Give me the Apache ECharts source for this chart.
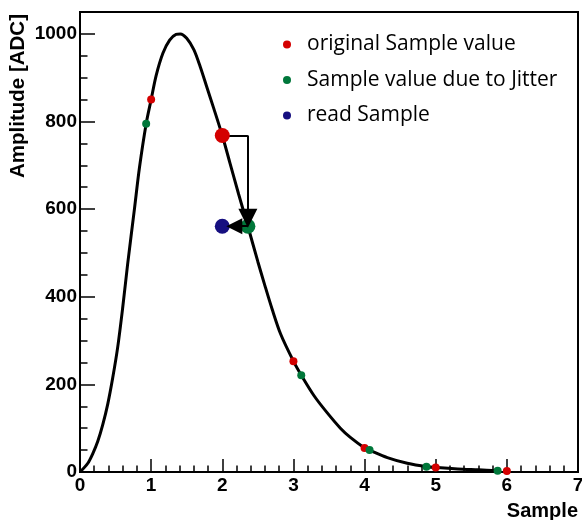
<!DOCTYPE html>
<html>
<head>
<meta charset="utf-8">
<script src="https://cdn.jsdelivr.net/npm/echarts@6/dist/echarts.min.js"></script>
<style>
  html, body { margin: 0; padding: 0; background: #fff; }
  #chart { width: 582px; height: 520px; }
</style>
</head>
<body>
<div id="chart"></div>
<script>
// ---- data ----
const pulseX = [0, 0.11, 0.18, 0.25, 0.32, 0.39, 0.46, 0.53, 0.60, 0.67, 0.765, 0.836, 0.93, 1.0, 1.07, 1.165, 1.26, 1.35, 1.41, 1.50, 1.60, 1.69, 1.78, 1.88, 2.0, 2.11, 2.23, 2.36, 2.50, 2.60, 2.70, 2.82, 3.0, 3.11, 3.29, 3.47, 3.66, 3.80, 4.0, 4.07, 4.32, 4.60, 4.88, 5.02, 5.31, 5.60, 5.87];
const pulseY = [0, 20, 42, 70, 108, 155, 215, 285, 375, 475, 600, 695, 795, 850, 905, 956, 986, 999, 1000, 990, 964, 925, 880, 830, 768, 704, 634, 561, 480, 425, 372, 315, 253, 221, 174, 136, 100, 79, 55, 50, 33, 20, 12, 10, 7, 5, 3];

const originalX = [1, 2, 3, 4, 5, 6];
const originalY = [850, 768, 253, 55, 10, 2];
const jitterX = [0.93, 2.36, 3.11, 4.07, 4.87, 5.87];
const jitterY = [795, 561, 221, 50, 12, 3];
const readX = [2];
const readY = [561];
const highlightIndex = 1; // the sample that is illustrated with arrows

const xTicks = { min: 0, max: 7, step: 1 };
const yTicks = { min: 0, max: 1050, step: 200, minorStep: 50, lastLabel: 1000 };

const seriesNames = ['original Sample value', 'Sample value due to Jitter', 'read Sample'];
const colors = ['#d40000', '#00773a', '#160f80'];

// ---- chart ----
const chart = echarts.init(document.getElementById('chart'));

const zip = (xs, ys) => xs.map((x, i) => [x, ys[i]]);
const sizeFn = (big) => (v, p) => (p.dataIndex === big ? 15 : 8);

// geometry of arrows derived from the highlighted samples
const gridH = 460, gridW = 498;
const dyPerPx = (yTicks.max - yTicks.min) / gridH;
const dxPerPx = (xTicks.max - xTicks.min) / gridW;
const rX = originalX[highlightIndex], rY = originalY[highlightIndex];
const gX = jitterX[highlightIndex], gY = jitterY[highlightIndex];
const bX = readX[0], bY = readY[0];

const tickStyle = { color: '#000', width: 1.5 };
const labelFont = { fontFamily: 'Liberation Sans', fontWeight: 'bold', fontSize: 19, color: '#000' };

chart.setOption({
  animation: false,
  backgroundColor: '#fff',
  grid: { left: 80, right: 4, top: 12, bottom: 48, show: true, borderColor: '#000', borderWidth: 2, backgroundColor: 'transparent', outerBoundsMode: 'none', containLabel: false },
  legend: {
    data: seriesNames,
    orient: 'vertical',
    left: 278, top: 29,
    itemWidth: 30, itemHeight: 8, itemGap: 14.5,
    textStyle: { fontFamily: 'Open Sans', fontSize: 21, color: '#000' }
  },
  xAxis: {
    type: 'value', min: xTicks.min, max: xTicks.max, interval: xTicks.step,
    axisLine: { show: true, onZero: false, lineStyle: { color: '#000', width: 2 } },
    axisTick: { show: true, inside: true, length: 13, lineStyle: tickStyle },
    minorTick: { show: true, splitNumber: 5, length: 6.5, lineStyle: tickStyle },
    splitLine: { show: false },
    axisLabel: Object.assign({ margin: 4 }, labelFont),
    name: 'Sample', nameLocation: 'end', nameGap: 0,
    nameTextStyle: { fontFamily: 'Liberation Sans', fontWeight: 'bold', fontSize: 20, color: '#000', align: 'right', verticalAlign: 'top', padding: [29, 0, 0, 0] }
  },
  yAxis: [
    {
      type: 'value', min: yTicks.min, max: yTicks.max, interval: yTicks.minorStep,
      axisLine: { show: true, onZero: false, lineStyle: { color: '#000', width: 2 } },
      axisTick: { show: true, inside: true, length: 7.5, lineStyle: tickStyle },
      axisLabel: { show: false },
      splitLine: { show: false }
    },
    {
      type: 'value', min: yTicks.min, max: yTicks.max, interval: yTicks.step, position: 'left',
      axisLine: { show: false },
      axisTick: { show: true, inside: true, length: 15, lineStyle: tickStyle },
      axisLabel: Object.assign({ margin: 3, formatter: (v) => (v > yTicks.lastLabel ? '' : String(v)) }, labelFont),
      splitLine: { show: false }
    }
  ],
  graphic: [{
    type: 'text', x: 18, y: 14, rotation: Math.PI / 2,
    style: { text: 'Amplitude [ADC]', font: 'bold 20.5px "Liberation Sans"', align: 'right', verticalAlign: 'middle', fill: '#000' }
  }],
  series: [
    {
      type: 'line', data: zip(pulseX, pulseY), showSymbol: false, smooth: 0.3,
      lineStyle: { color: '#000', width: 3 }, z: 2, silent: true
    },
    {
      type: 'lines', coordinateSystem: 'cartesian2d', z: 4, silent: true,
      symbol: 'none',
      lineStyle: { color: '#000', width: 2, opacity: 1 },
      data: [{ coords: [[rX, rY], [gX, rY]] }]
    },
    {
      type: 'lines', coordinateSystem: 'cartesian2d', z: 6, silent: true,
      symbol: ['none', 'triangle'], symbolSize: [12, 19],
      lineStyle: { color: '#000', width: 2, opacity: 1 },
      itemStyle: { color: '#000' },
      data: [
        { coords: [[gX, rY], [gX, gY + 8 * dyPerPx]] },
        { coords: [[gX, gY], [bX + 12 * dxPerPx, bY]], symbolSize: [11, 16] }
      ]
    },
    {
      name: seriesNames[0], type: 'scatter', data: zip(originalX, originalY),
      symbol: 'circle', symbolSize: sizeFn(highlightIndex), itemStyle: { color: colors[0], opacity: 1 }, z: 5
    },
    {
      name: seriesNames[1], type: 'scatter', data: zip(jitterX, jitterY),
      symbol: 'circle', symbolSize: sizeFn(highlightIndex), itemStyle: { color: colors[1], opacity: 1 }, z: 5
    },
    {
      name: seriesNames[2], type: 'scatter', data: zip(readX, readY),
      symbol: 'circle', symbolSize: sizeFn(0), itemStyle: { color: colors[2], opacity: 1 }, z: 5
    }
  ]
});
</script>
</body>
</html>
